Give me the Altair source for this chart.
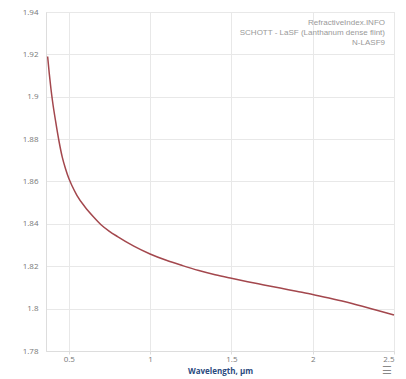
import altair as alt
import pandas as pd

wavelength = [0.37, 0.38, 0.39, 0.40, 0.42, 0.44, 0.46, 0.48, 0.50, 0.52, 0.55, 0.60,
              0.65, 0.70, 0.75, 0.80, 0.90, 1.00, 1.10, 1.20, 1.30, 1.40, 1.50, 1.60,
              1.70, 1.80, 1.90, 2.00, 2.10, 2.20, 2.30, 2.40, 2.50]
n_index = [1.919, 1.911, 1.904, 1.898, 1.888, 1.879, 1.8715, 1.866, 1.8615, 1.858, 1.8535, 1.848,
           1.8435, 1.8395, 1.8365, 1.834, 1.8295, 1.8258, 1.8228, 1.8203, 1.818, 1.816, 1.8143, 1.8127,
           1.8112, 1.8097, 1.8082, 1.8067, 1.805, 1.8032, 1.8012, 1.7991, 1.7970]

legend_lines = ["RefractiveIndex.INFO", "SCHOTT - LaSF (Lanthanum dense flint)", "N-LASF9"]
x_ticks = [0.5, 1, 1.5, 2, 2.5]
y_ticks = [1.78, 1.80, 1.82, 1.84, 1.86, 1.88, 1.90, 1.92, 1.94]

df = pd.DataFrame({"wl": wavelength, "n": n_index})

line = alt.Chart(df).mark_line(color="#a3474d", strokeWidth=1.5, interpolate="monotone").encode(
    x=alt.X("wl:Q", scale=alt.Scale(domain=[0.36, 2.5], nice=False, zero=False),
            axis=alt.Axis(values=x_ticks, format="~g", title="Wavelength, µm",
                          titleFontWeight="bold", titleColor="#2b4a7e", titleFontSize=8,
                          titlePadding=4, labelFontSize=8, labelColor="#777", labelPadding=1,
                          tickColor="#ddd", tickSize=3, domainColor="#ddd",
                          gridColor="#e8e8e8")),
    y=alt.Y("n:Q", scale=alt.Scale(domain=[1.78, 1.94], nice=False, zero=False),
            axis=alt.Axis(values=y_ticks, format="~g", title=None, labelFontSize=8,
                          labelColor="#777", ticks=False, labelPadding=8,
                          domainColor="#ddd", gridColor="#e8e8e8")),
)

layers = [line]
for i, t in enumerate(legend_lines):
    layers.append(
        alt.Chart(pd.DataFrame({"t": [t]})).mark_text(
            align="right", baseline="middle", fontSize=8, color="#999").encode(
            x=alt.value(339), y=alt.value(11 + 10 * i), text="t:N")
    )

icon = alt.Chart(pd.DataFrame({"t": ["☰"]})).mark_text(fontSize=11, color="#888").encode(
    x=alt.value(341), y=alt.value(359), text="t:N")
layers.append(icon)

chart = alt.layer(*layers).properties(
    width=348, height=339,
    padding={"left": 46, "top": 12, "right": 12, "bottom": 28},
    autosize=alt.AutoSizeParams(type="none"),
    background="white",
).configure_view(stroke="#e0e0e0").configure_axis(labelFont="Open Sans", titleFont="Open Sans")

chart.save("out.html", embed_options={"renderer": "svg", "actions": False})
